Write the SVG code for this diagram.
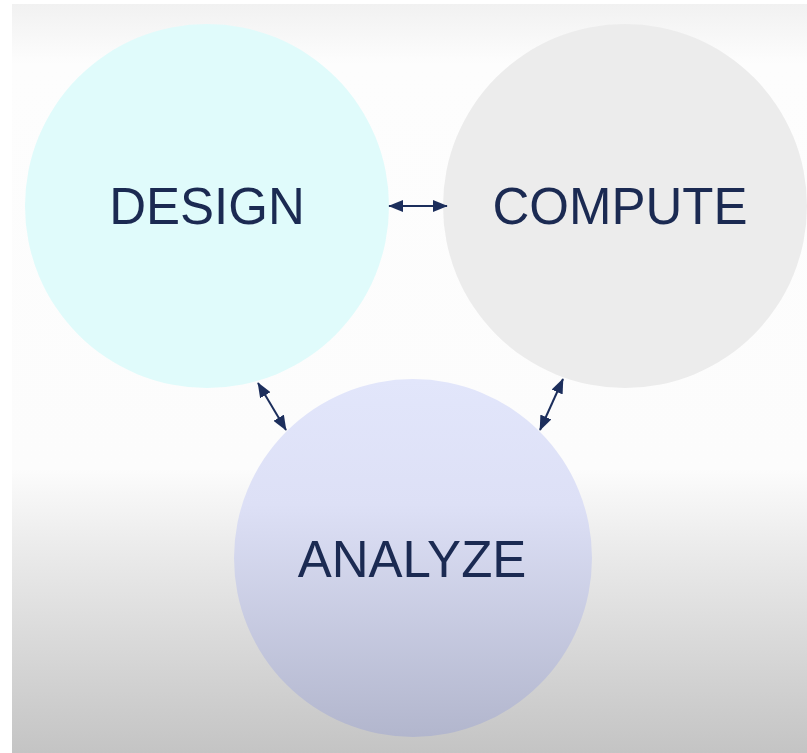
<svg xmlns="http://www.w3.org/2000/svg" width="807" height="753" viewBox="0 0 807 753">
  <defs>
    <linearGradient id="bg" x1="0" y1="0" x2="0" y2="1">
      <stop offset="0" stop-color="#f1f1f1"/>
      <stop offset="0.08" stop-color="#fdfdfd"/>
      <stop offset="0.62" stop-color="#fcfcfc"/>
      <stop offset="0.72" stop-color="#ececec"/>
      <stop offset="1" stop-color="#c4c4c4"/>
    </linearGradient>
    <linearGradient id="analyzeFill" x1="0" y1="0" x2="0" y2="1">
      <stop offset="0" stop-color="#e2e6fb"/>
      <stop offset="0.35" stop-color="#dde0f6"/>
      <stop offset="1" stop-color="#b2b6cd"/>
    </linearGradient>
    <marker id="head" viewBox="0 0 10 10" refX="9.5" refY="5" markerWidth="15" markerHeight="12" orient="auto-start-reverse" markerUnits="userSpaceOnUse" preserveAspectRatio="none">
      <path d="M0,0 L10,5 L0,10 Z" fill="#1c2e5c"/>
    </marker>
    <style>
      .label { font-family: "Liberation Sans", Arial, sans-serif; font-size: 51px; fill: #1b2a52; text-anchor: middle; }
      .link { stroke: #1c2e5c; stroke-width: 2; fill: none; marker-start: url(#head); marker-end: url(#head); }
    </style>
  </defs>

  <!-- backdrop -->
  <rect x="0" y="0" width="807" height="753" fill="#ffffff"/>
  <rect x="12" y="4" width="795" height="749" fill="url(#bg)"/>

  <g id="design">
    <circle cx="207" cy="206" r="182" fill="#e0fbfb"/>
    <text class="label" x="207" y="224">DESIGN</text>
  </g>

  <g id="compute">
    <circle cx="625" cy="206" r="182" fill="#ececec"/>
    <text class="label" x="620" y="224">COMPUTE</text>
  </g>

  <g id="analyze">
    <circle cx="413" cy="558" r="179" fill="url(#analyzeFill)"/>
    <text class="label" x="412" y="577">ANALYZE</text>
  </g>

  <g id="connectors">
    <line class="link" x1="389" y1="206" x2="447" y2="206"/>
    <line class="link" x1="258" y1="383" x2="286" y2="430"/>
    <line class="link" x1="563" y1="379" x2="540" y2="430"/>
  </g>
</svg>
